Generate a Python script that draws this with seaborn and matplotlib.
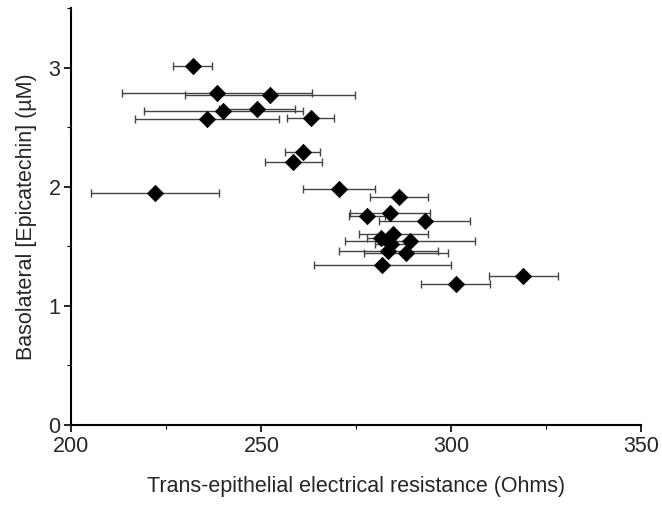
import matplotlib
matplotlib.use("Agg")
import matplotlib.pyplot as plt
import seaborn as sns
import pandas as pd
from matplotlib.ticker import MultipleLocator

# TEER (Ohms), basolateral epicatechin (uM) and TEER error (Ohms)
teer = [231.9, 238.2, 252.2, 240.0, 248.9, 235.6, 263.0, 260.8, 258.4, 222.0,
        270.4, 286.2, 283.8, 277.7, 293.0, 284.7, 281.4, 289.1, 284.0, 283.4,
        288.0, 281.8, 318.9, 301.1]
epicatechin = [3.01, 2.79, 2.77, 2.64, 2.65, 2.57, 2.58, 2.29, 2.21, 1.95,
               1.98, 1.91, 1.78, 1.75, 1.71, 1.60, 1.57, 1.54, 1.52, 1.46,
               1.44, 1.34, 1.25, 1.18]
teer_err = [5.2, 25.0, 22.4, 21.0, 10.0, 19.0, 6.2, 4.6, 7.5, 16.8,
            9.6, 7.6, 10.5, 4.7, 12.0, 9.0, 3.6, 17.0, 4.0, 13.0,
            11.0, 18.0, 9.0, 9.0]

df = pd.DataFrame({"teer": teer, "epi": epicatechin, "err": teer_err})

sns.set_style("ticks")
plt.rcParams["font.family"] = ["Liberation Sans", "DejaVu Sans"]

fig = plt.figure(figsize=(6.62, 5.07), dpi=100)
ax = fig.add_axes([0.108, 0.162, 0.861, 0.822])

ax.errorbar(df["teer"], df["epi"], xerr=df["err"], fmt="none",
            ecolor="#444444", elinewidth=1.0, capsize=3, capthick=1.0, zorder=2)
sns.scatterplot(data=df, x="teer", y="epi", marker="D", s=70, color="black",
                edgecolor="black", linewidth=0.5, ax=ax, zorder=3)

ax.set_xlim(200, 350)
ax.set_ylim(0, 3.5)
ax.xaxis.set_major_locator(MultipleLocator(50))
ax.xaxis.set_minor_locator(MultipleLocator(25))
ax.yaxis.set_major_locator(MultipleLocator(1))
ax.yaxis.set_minor_locator(MultipleLocator(0.5))
ax.tick_params(which="major", length=5, width=1.2, labelsize=15.5, color="black", pad=3)
ax.tick_params(which="minor", length=3, width=0.8, color="black")

sns.despine(ax=ax)
for sp in ("left", "bottom"):
    ax.spines[sp].set_linewidth(1.5)
    ax.spines[sp].set_color("black")

ax.set_xlabel("Trans-epithelial electrical resistance (Ohms)", fontsize=15.5, labelpad=14)
ax.set_ylabel("Basolateral [Epicatechin] (\u00b5M)", fontsize=15.5, labelpad=8)

fig.savefig("out.png", dpi=100)
